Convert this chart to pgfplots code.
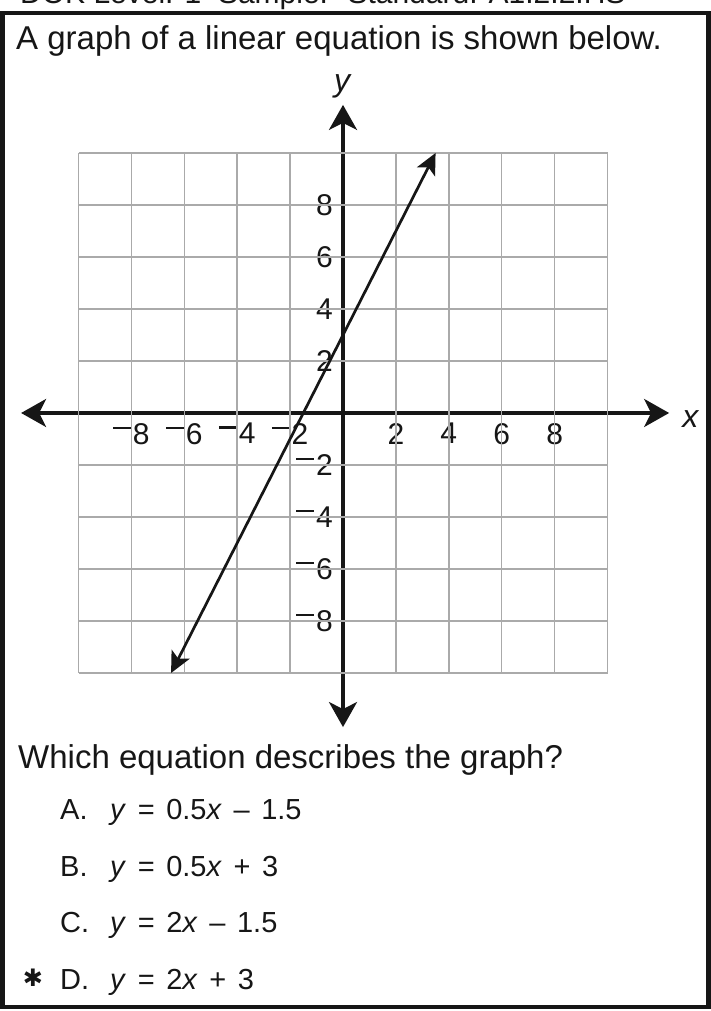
\documentclass[border=0pt]{standalone}
\usepackage{fontspec}
\setmainfont{Liberation Sans}
\newfontfamily\dejavu{DejaVu Sans}
\usepackage{pgfplots}
\pgfplotsset{compat=1.18}
\usetikzlibrary{arrows.meta}
\definecolor{gridgray}{RGB}{170,170,170}
\definecolor{ink}{RGB}{22,22,22}
\newcommand{\nm}{\raisebox{0.5em}{\rule{0.6em}{0.08em}}\hspace{0.06em}}
\newcommand{\s}{\hspace{0.4em}}
\begin{document}
\begin{tikzpicture}
\useasboundingbox (0pt,0pt) rectangle (711pt,1011pt);
\fill[white] (0pt,0pt) rectangle (711pt,1011pt);
% cut-off header line
\node[anchor=base west, inner sep=0pt, text=ink, font=\fontsize{30}{36}\selectfont] at (20pt,1007pt) {DOK Level: 1 \ Sample: \ Standard: A1.2.2.HS};
% frame
\draw[line width=4.5pt, ink] (2.5pt,4pt) rectangle (708.5pt,998pt);
% title
\node[anchor=base west, inner sep=0pt, text=ink, font=\fontsize{33}{40}\selectfont] at (16pt,961pt) {A graph of a linear equation is shown below.};
\begin{axis}[
  anchor=origin, at={(343pt,598pt)},
  x=26.45pt, y=26pt,
  xmin=-12.17, xmax=12.33, ymin=-12.08, ymax=11.85,
  axis lines=middle,
  axis line style={line width=3.4pt, ink, {Stealth[length=25pt,width=28pt,inset=7pt]}-{Stealth[length=25pt,width=28pt,inset=7pt]}},
  xtick={-8,-6,-4,-2,2,4,6,8},
  xticklabels={\nm8,\nm6,\nm4,\nm2,2,4,6,8},
  ytick={-8,-6,-4,-2,2,4,6,8},
  yticklabels={\nm8,\nm6,\nm4,\nm2,2,4,6,8},
  major tick length=0pt,
  tick label style={font=\fontsize{30}{30}\selectfont, text=ink},
  xticklabel style={anchor=north, inner sep=0pt, yshift=-10pt},
  yticklabel style={anchor=east, inner sep=0pt, xshift=-10pt},
  xlabel={\textit{x}},
  ylabel={\textit{y}},
  xlabel style={at={(axis cs:12.33,0)}, anchor=west, inner sep=0pt, xshift=13pt, yshift=-6pt, font=\fontsize{32}{32}\selectfont, text=ink},
  ylabel style={at={(axis cs:0,11.85)}, anchor=south, inner sep=0pt, yshift=7pt, font=\fontsize{32}{32}\selectfont, text=ink},
  clip=false,
]
\pgfplotsinvokeforeach{-10,-8,-6,-4,-2,2,4,6,8,10}{
  \addplot[gridgray, line width=1.5pt, forget plot] coordinates {(#1,-10) (#1,10)};
  \addplot[gridgray, line width=1.5pt, forget plot] coordinates {(-10,#1) (10,#1)};
}
\addplot[ink, line width=2.7pt, {Stealth[length=21pt,width=20pt,inset=5pt]}-{Stealth[length=21pt,width=20pt,inset=5pt]}] coordinates {(-6.5,-10) (3.5,10)};
\end{axis}
% question and answers
\node[anchor=base west, inner sep=0pt, text=ink, font=\fontsize{33}{40}\selectfont] at (18pt,242pt) {Which equation describes the graph?};
\begin{scope}[every node/.style={anchor=base west, inner sep=0pt, text=ink, font=\fontsize{29}{34}\selectfont}]
\node at (60pt,191pt) {A.};
\node at (110pt,191pt) {\textit{y}\s=\s0.5\textit{x}\s–\s1.5};
\node at (60pt,134pt) {B.};
\node at (110pt,134pt) {\textit{y}\s=\s0.5\textit{x}\s+\s3};
\node at (60pt,78pt) {C.};
\node at (110pt,78pt) {\textit{y}\s=\s2\textit{x}\s–\s1.5};
\node at (60pt,21pt) {D.};
\node at (110pt,21pt) {\textit{y}\s=\s2\textit{x}\s+\s3};
\end{scope}
\node[anchor=center, inner sep=0pt, text=ink, font=\dejavu\fontsize{24}{24}\selectfont] at (33pt,33pt) {✱};
\end{tikzpicture}
\end{document}
